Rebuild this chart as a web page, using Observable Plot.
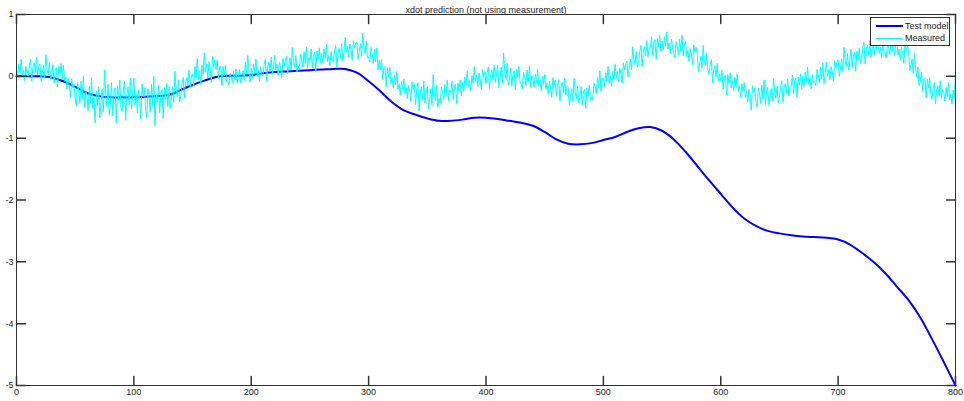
<!DOCTYPE html>
<html>
<head>
<meta charset="utf-8">
<script src="https://cdn.jsdelivr.net/npm/d3@7"></script>
<script src="https://cdn.jsdelivr.net/npm/@observablehq/plot@0.6"></script>
<style>
  html, body { margin: 0; padding: 0; background: #fff; }
  #wrap { position: relative; width: 964px; height: 401px; font-family: "Liberation Sans", Arial, sans-serif; }
  #legend { position: absolute; left: 870px; top: 17px; width: 80px; height: 29px; border: 1px solid #333; background: #fff; font-size: 9px; color: #222; box-sizing: border-box; }
  #legend .row { position: absolute; left: 0; height: 12px; line-height: 12px; white-space: nowrap; }
  #legend .sw { position: absolute; left: 5px; top: 6px; width: 27px; }
  #legend .lb { position: absolute; left: 34px; top: 0; }
</style>
</head>
<body>
<div id="wrap"></div>
<script>
const title = "xdot prediction (not using measurement)";
const seriesNames = ["Test model", "Measured"];
const xTicks = [0, 100, 200, 300, 400, 500, 600, 700, 800];
const yTicks = [-5, -4, -3, -2, -1, 0, 1];

// Test model (smooth), sampled every 10
const modelX = [0,10,20,30,40,50,60,70,80,90,100,110,120,130,140,150,160,170,180,190,200,210,220,230,240,250,260,270,280,290,300,310,320,330,340,350,360,370,380,390,400,410,420,430,440,450,460,470,480,490,500,510,520,530,540,550,560,570,580,590,600,610,620,630,640,650,660,670,680,690,700,710,720,730,740,750,760,770,780,790,800];
const modelY = [0,0,0,-0.02,-0.08,-0.17,-0.27,-0.32,-0.34,-0.34,-0.34,-0.33,-0.32,-0.3,-0.22,-0.14,-0.07,-0.01,0.01,0.01,0.02,0.05,0.07,0.08,0.09,0.1,0.11,0.12,0.12,0.06,-0.08,-0.24,-0.42,-0.55,-0.62,-0.68,-0.72,-0.72,-0.7,-0.67,-0.67,-0.69,-0.72,-0.75,-0.8,-0.9,-1.02,-1.09,-1.1,-1.08,-1.03,-0.98,-0.9,-0.84,-0.82,-0.88,-1.02,-1.22,-1.45,-1.68,-1.9,-2.12,-2.3,-2.42,-2.5,-2.54,-2.57,-2.59,-2.6,-2.61,-2.64,-2.72,-2.85,-3.0,-3.18,-3.4,-3.62,-3.9,-4.25,-4.62,-5.0];

// Measured (noisy), one value per x = 0..800
const measuredY = [
0.13,-0.02,0.20,0.05,0.28,0.00,0.10,-0.07,0.16,0.03,
0.00,0.18,0.27,-0.08,0.15,0.22,0.06,0.30,0.02,0.16,
0.20,-0.08,0.05,0.18,-0.02,0.35,0.12,0.02,0.22,-0.05,
0.01,0.19,-0.11,0.10,0.14,-0.17,0.16,0.03,0.21,-0.04,
0.18,-0.08,-0.01,-0.21,-0.03,-0.14,-0.34,-0.04,-0.19,-0.13,
-0.37,-0.48,-0.10,-0.23,-0.44,-0.08,-0.37,0.01,-0.51,-0.25,
-0.29,-0.56,-0.16,-0.43,-0.02,-0.52,-0.34,-0.75,-0.24,-0.47,
-0.17,-0.67,-0.44,-0.21,-0.57,0.10,-0.31,-0.49,-0.13,-0.62,
-0.42,-0.10,-0.64,-0.26,-0.19,-0.75,-0.15,-0.39,-0.06,-0.51,
-0.57,-0.24,-0.08,-0.71,-0.30,-0.17,-0.46,-0.03,-0.53,-0.28,
-0.03,-0.46,-0.28,-0.60,-0.22,-0.39,-0.69,-0.12,-0.33,-0.19,
-0.54,-0.67,-0.20,-0.35,-0.58,-0.13,-0.47,0.00,-0.80,-0.29,
-0.41,-0.14,-0.59,-0.27,-0.21,-0.68,-0.18,-0.38,-0.11,-0.49,
-0.17,-0.52,-0.35,-0.17,-0.42,0.08,-0.21,-0.33,-0.06,-0.41,
-0.32,-0.12,-0.02,-0.35,-0.10,-0.02,-0.16,0.10,-0.17,-0.01,
0.04,-0.15,0.16,-0.02,0.29,-0.05,0.09,-0.13,0.18,0.03,
0.38,0.07,0.20,-0.03,0.24,0.12,-0.10,0.32,0.16,0.27,
0.11,0.27,-0.04,0.15,0.17,-0.15,0.16,0.01,0.18,-0.09,
-0.09,-0.14,0.05,-0.01,-0.10,0.08,-0.06,0.12,-0.11,0.01,
0.11,-0.11,-0.01,0.09,-0.07,0.23,0.05,0.34,0.13,-0.09,
0.13,-0.02,0.20,0.05,0.28,0.00,0.10,-0.07,0.16,0.03,
0.01,0.19,0.28,-0.07,0.16,0.23,0.07,0.31,0.03,0.17,
0.34,0.10,0.20,0.02,0.23,0.14,-0.03,0.29,0.17,0.25,
0.32,0.04,0.17,0.30,0.10,0.47,0.24,0.14,0.34,0.07,
0.17,0.10,0.36,0.28,0.15,0.40,0.21,0.47,0.13,0.31,
0.26,0.44,0.14,0.35,0.39,0.08,0.41,0.28,0.46,0.21,
0.37,0.22,0.44,0.29,0.52,0.24,0.34,0.17,0.40,0.27,
0.23,0.41,0.50,0.15,0.38,0.45,0.29,0.53,0.25,0.39,
0.63,0.39,0.49,0.31,0.52,0.43,0.26,0.58,0.46,0.54,
0.55,0.27,0.40,0.53,0.33,0.70,0.47,0.37,0.57,0.30,
0.32,0.23,0.47,0.36,0.21,0.44,0.23,0.46,0.10,0.26,
0.11,0.27,-0.05,0.14,0.16,-0.17,0.14,-0.01,0.15,-0.12,
-0.03,-0.19,0.02,-0.14,0.08,-0.21,-0.12,-0.30,-0.08,-0.22,
-0.04,-0.28,-0.18,-0.36,-0.15,-0.24,-0.41,-0.09,-0.21,-0.13,
-0.46,-0.22,-0.10,-0.56,-0.26,-0.17,-0.38,-0.07,-0.43,-0.25,
-0.17,-0.53,-0.37,-0.20,-0.46,0.03,-0.27,-0.40,-0.14,-0.50,
-0.36,-0.43,-0.17,-0.25,-0.38,-0.13,-0.32,-0.06,-0.40,-0.22,
-0.26,-0.08,-0.38,-0.17,-0.13,-0.44,-0.11,-0.24,-0.06,-0.31,
-0.10,-0.24,-0.01,-0.15,0.09,-0.18,-0.07,-0.23,0.01,-0.11,
0.16,-0.08,0.02,-0.16,0.05,-0.04,-0.21,0.11,-0.01,0.07,
-0.12,0.06,0.15,-0.20,0.03,0.10,-0.06,0.18,-0.10,0.04,
0.18,-0.18,-0.02,0.15,-0.11,0.38,0.08,-0.05,0.21,-0.15,
-0.04,0.14,-0.16,0.05,0.09,-0.22,0.11,-0.02,0.16,-0.09,
-0.13,-0.20,0.06,-0.02,-0.15,0.10,-0.09,0.17,-0.17,0.01,
-0.03,-0.18,0.04,-0.11,0.12,-0.16,-0.06,-0.23,0.00,-0.13,
0.03,-0.21,-0.11,-0.29,-0.08,-0.17,-0.34,-0.02,-0.14,-0.06,
-0.32,-0.14,-0.05,-0.40,-0.17,-0.10,-0.26,-0.02,-0.30,-0.16,
-0.18,-0.46,-0.33,-0.20,-0.40,-0.03,-0.26,-0.36,-0.16,-0.43,
-0.34,-0.16,-0.46,-0.25,-0.21,-0.52,-0.19,-0.32,-0.14,-0.39,
-0.33,-0.38,-0.11,-0.17,-0.28,-0.02,-0.19,0.09,-0.24,-0.04,
-0.03,-0.17,0.06,-0.08,0.16,-0.11,0.00,-0.16,0.08,-0.05,
0.20,-0.03,0.08,-0.09,0.13,0.05,-0.11,0.22,0.11,0.20,
0.25,-0.01,0.13,0.28,0.10,0.48,0.27,0.19,0.40,0.15,
0.21,0.40,0.50,0.16,0.40,0.48,0.33,0.58,0.31,0.46,
0.46,0.64,0.34,0.55,0.59,0.28,0.61,0.48,0.66,0.41,
0.57,0.42,0.64,0.49,0.72,0.44,0.54,0.37,0.60,0.47,
0.37,0.30,0.56,0.48,0.35,0.60,0.41,0.67,0.33,0.51,
0.56,0.32,0.42,0.24,0.45,0.36,0.19,0.51,0.39,0.47,
0.35,0.07,0.20,0.33,0.13,0.50,0.27,0.17,0.37,0.10,
0.03,0.19,0.27,-0.10,0.11,0.17,-0.01,0.21,-0.08,0.04,
-0.07,0.10,-0.21,-0.01,0.02,-0.30,0.03,-0.11,0.06,-0.19,
-0.07,-0.23,-0.02,-0.18,0.04,-0.25,-0.16,-0.34,-0.12,-0.25,
-0.10,-0.34,-0.24,-0.42,-0.21,-0.30,-0.55,-0.15,-0.27,-0.19,
-0.42,-0.50,-0.19,-0.28,-0.44,-0.14,-0.37,-0.06,-0.46,-0.25,
-0.18,-0.46,-0.33,-0.20,-0.40,-0.03,-0.26,-0.36,-0.16,-0.43,
-0.34,-0.16,-0.07,-0.42,-0.19,-0.12,-0.28,-0.04,-0.32,-0.18,
-0.16,0.02,-0.28,-0.07,-0.03,-0.34,-0.01,-0.14,0.04,-0.21,
0.00,-0.15,0.07,-0.08,0.15,-0.13,-0.03,-0.20,0.03,-0.10,
-0.08,-0.15,0.11,0.03,-0.10,0.15,-0.04,0.22,-0.12,0.06,
0.23,0.00,0.11,-0.06,0.16,0.08,-0.08,0.25,0.14,0.23,
0.27,0.00,0.14,0.28,0.09,0.47,0.25,0.16,0.37,0.10,
0.26,0.44,0.14,0.35,0.39,0.08,0.41,0.28,0.46,0.21,
0.28,0.46,0.55,0.20,0.43,0.50,0.34,0.58,0.30,0.44,
0.50,0.35,0.57,0.42,0.65,0.37,0.47,0.30,0.53,0.40,
0.37,0.30,0.56,0.48,0.35,0.60,0.41,0.67,0.33,0.51,
0.58,0.34,0.44,0.26,0.47,0.38,0.21,0.53,0.41,0.49,
0.40,0.09,0.18,0.28,0.05,0.38,0.12,-0.01,0.15,-0.15,
-0.09,0.07,-0.24,-0.05,-0.03,-0.35,-0.04,-0.19,-0.02,-0.29,
-0.37,-0.19,-0.10,-0.45,-0.22,-0.15,-0.31,-0.07,-0.35,-0.21,
-0.25,-0.40,-0.18,-0.33,-0.10,-0.38,-0.28,-0.45,-0.22,-0.35,
0.05
];

const model = modelX.map((x, i) => ({x, y: modelY[i]}));
const measured = measuredY.map((y, i) => ({x: i, y}));

const tickShape = { draw(ctx, l) { ctx.moveTo(0, 0); ctx.lineTo(0, -l); } };
const axisColor = "#333";

const plot = Plot.plot({
  width: 964,
  height: 401,
  marginLeft: 16,
  marginRight: 9,
  marginTop: 14,
  marginBottom: 16,
  style: { fontFamily: "'Liberation Sans', Arial, sans-serif", fontSize: "9px", color: "#222", background: "#fff" },
  x: { domain: [0, 800], ticks: xTicks, label: null },
  y: { domain: [-5, 1], ticks: yTicks, label: null },
  marks: [
    Plot.line(model, { x: "x", y: "y", stroke: "#0000ff", strokeWidth: 2, curve: "catmull-rom" }),
    Plot.line(measured, { x: "x", y: "y", stroke: "#00ffff", strokeWidth: 1 }),
    Plot.frame({ stroke: axisColor, strokeWidth: 1 }),
    Plot.axisX({ ticks: xTicks, tickSize: 0, tickPadding: 3, label: null, fontSize: 9, tickFormat: d => String(d) }),
    Plot.axisY({ ticks: yTicks, tickSize: 0, tickPadding: 3, label: null, fontSize: 9, tickFormat: d => String(d) }),
    Plot.vector(xTicks, { x: d => d, frameAnchor: "bottom", length: 9, rotate: 0, anchor: "start", shape: tickShape, stroke: axisColor }),
    Plot.vector(xTicks, { x: d => d, frameAnchor: "top", length: 9, rotate: 180, anchor: "start", shape: tickShape, stroke: axisColor }),
    Plot.vector(yTicks, { y: d => d, frameAnchor: "left", length: 9, rotate: 90, anchor: "start", shape: tickShape, stroke: axisColor }),
    Plot.vector(yTicks, { y: d => d, frameAnchor: "right", length: 9, rotate: -90, anchor: "start", shape: tickShape, stroke: axisColor }),
    Plot.text([title], { text: d => d, frameAnchor: "top", dy: -8, fontSize: 9, fill: "#222" })
  ]
});

const wrap = document.getElementById("wrap");
wrap.appendChild(plot);

const legend = document.createElement("div");
legend.id = "legend";
const colors = ["#0000ff", "#00ffff"];
const widths = [2, 1];
seriesNames.forEach((name, i) => {
  const row = document.createElement("div");
  row.className = "row";
  row.style.top = (2 + i * 12) + "px";
  row.style.width = "78px";
  const sw = document.createElement("div");
  sw.className = "sw";
  sw.style.borderTop = widths[i] + "px solid " + colors[i];
  sw.style.top = (6 - Math.floor(widths[i] / 2)) + "px";
  const lb = document.createElement("span");
  lb.className = "lb";
  lb.textContent = name;
  row.appendChild(sw);
  row.appendChild(lb);
  legend.appendChild(row);
});
wrap.appendChild(legend);
</script>
</body>
</html>
